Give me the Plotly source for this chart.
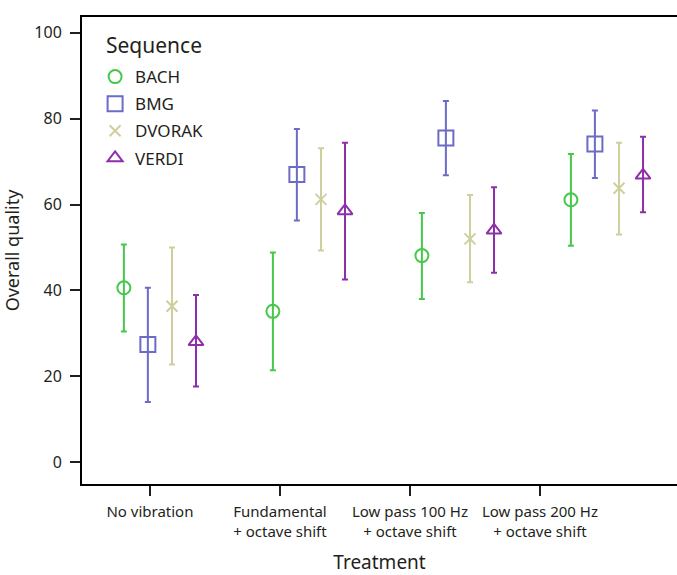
import plotly.graph_objects as go

treatments = ["No vibration", "Fundamental<br>+ octave shift", "Low pass 100 Hz<br>+ octave shift", "Low pass 200 Hz<br>+ octave shift"]
sequences = ["BACH", "BMG", "DVORAK", "VERDI"]

mean_vals = {
    "BACH":   [40.6, 35.1, 48.1, 61.1],
    "BMG":    [27.4, 67.0, 75.5, 74.1],
    "DVORAK": [36.3, 61.2, 52.0, 63.8],
    "VERDI":  [28.0, 58.5, 54.0, 66.8],
}
upper_vals = {
    "BACH":   [50.7, 48.8, 58.0, 71.8],
    "BMG":    [40.6, 77.6, 84.1, 81.9],
    "DVORAK": [50.0, 73.1, 62.2, 74.4],
    "VERDI":  [38.9, 74.4, 64.0, 75.8],
}
lower_vals = {
    "BACH":   [30.4, 21.4, 38.0, 50.4],
    "BMG":    [14.0, 56.3, 66.8, 66.2],
    "DVORAK": [22.7, 49.3, 41.9, 53.0],
    "VERDI":  [17.6, 42.5, 44.1, 58.2],
}

colors = {"BACH": "#46c84a", "BMG": "#6b6bc8", "DVORAK": "#cfcf9e", "VERDI": "#8e2ea8"}
symbols = {"BACH": "circle-open", "BMG": "square-open", "DVORAK": "x-thin-open", "VERDI": "triangle-up-open"}
sizes = {"BACH": 13, "BMG": 15, "DVORAK": 11, "VERDI": 13}
offsets = {"BACH": -0.242, "BMG": -0.081, "DVORAK": 0.081, "VERDI": 0.242}

FONT = "Noto Sans"
fig = go.Figure()
for s in sequences:
    xs = [i + offsets[s] for i in range(len(treatments))]
    m = mean_vals[s]
    fig.add_trace(go.Scatter(
        x=xs, y=m, mode="markers", name=s, legendgroup=s,
        marker=dict(symbol=symbols[s], size=sizes[s], color=colors[s],
                    line=dict(color=colors[s], width=2)),
        error_y=dict(type="data", symmetric=False,
                     array=[u - v for u, v in zip(upper_vals[s], m)],
                     arrayminus=[v - l for v, l in zip(m, lower_vals[s])],
                     color=colors[s], thickness=2, width=3),
    ))

tick_pos = [-0.067 + i * 130 / 149 for i in range(len(treatments))]

fig.add_annotation(
    text="Sequence", xref="paper", yref="paper", x=0.0366, y=0.940,
    xanchor="left", yanchor="middle", showarrow=False,
    font=dict(size=21, family=FONT, color="#231f20"),
)

fig.update_layout(
    width=677, height=575,
    margin=dict(l=82, r=0, t=17, b=91),
    plot_bgcolor="white", paper_bgcolor="white",
    font=dict(family=FONT, size=16, color="#231f20"),
    showlegend=True,
    legend=dict(
        font=dict(size=17),
        x=0.022, y=0.910, xanchor="left", yanchor="top",
        bgcolor="rgba(0,0,0,0)",
        traceorder="grouped", tracegroupgap=2,
        itemwidth=30,
    ),
    xaxis=dict(
        range=[-0.523, 3.47], tickmode="array", tickvals=tick_pos, ticktext=treatments,
        tickfont=dict(size=15),
        showgrid=False, zeroline=False, showline=True, linecolor="black", linewidth=2,
        mirror=True, ticks="outside", ticklen=10, tickwidth=2, tickcolor="#231f20",
        ticklabelstandoff=3,
        automargin=False,
        title=dict(text="Treatment", font=dict(size=19), standoff=21),
    ),
    yaxis=dict(
        range=[-5.13, 103.7], tickvals=[0, 20, 40, 60, 80, 100],
        showgrid=False, zeroline=False, showline=True, linecolor="black", linewidth=2,
        ticks="outside", ticklen=10, tickwidth=2, tickcolor="#231f20",
        ticklabelstandoff=5,
        automargin=False,
        title=dict(text="Overall quality", font=dict(size=18), standoff=15),
    ),
)

fig.write_html("out.html", config={"displayModeBar": False},
               post_script="document.body.style.margin='0';document.body.style.overflow='hidden';")
